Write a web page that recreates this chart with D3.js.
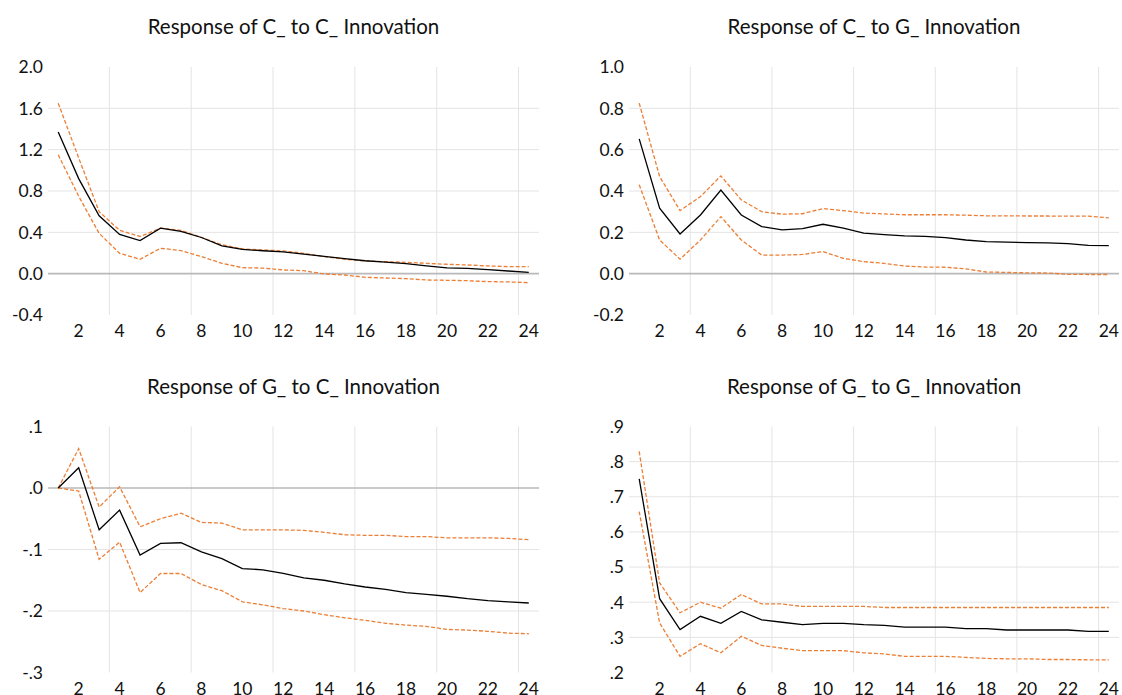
<!DOCTYPE html>
<html>
<head>
<meta charset="utf-8">
<script src="https://cdn.jsdelivr.net/npm/d3@7"></script>
<style>
  body { margin: 0; background: #fff; }
  text { font-family: Lato, "Open Sans", sans-serif; fill: #111; }
</style>
</head>
<body>
<div id="chart"></div>
<script>
// periods 1..24
let periods = d3.range(1, 25);
let xLabels = [2,4,6,8,10,12,14,16,18,20,22,24];

// Response of C_ to C_ Innovation
let ccMid = [1.37,0.92,0.56,0.38,0.32,0.44,0.41,0.35,0.27,0.235,0.222,0.21,0.19,0.168,0.145,0.125,0.112,0.097,0.075,0.056,0.052,0.04,0.026,0.013];
let ccUp  = [1.65,1.12,0.60,0.42,0.36,0.44,0.42,0.35,0.28,0.24,0.23,0.22,0.197,0.165,0.139,0.123,0.116,0.11,0.10,0.091,0.084,0.075,0.068,0.068];
let ccLo  = [1.15,0.75,0.39,0.197,0.139,0.246,0.223,0.165,0.10,0.058,0.054,0.036,0.029,-0.003,-0.013,-0.035,-0.042,-0.048,-0.061,-0.064,-0.068,-0.077,-0.08,-0.087];
let ccTicks = [-0.4,0,0.4,0.8,1.2,1.6,2.0];
let ccTickLabels = ["-0.4","0.0","0.4","0.8","1.2","1.6","2.0"];

// Response of C_ to G_ Innovation
let cgMid = [0.652,0.317,0.192,0.284,0.405,0.284,0.228,0.212,0.218,0.239,0.22,0.196,0.189,0.183,0.18,0.174,0.163,0.155,0.153,0.15,0.149,0.145,0.137,0.136];
let cgUp  = [0.825,0.47,0.305,0.373,0.473,0.357,0.30,0.288,0.29,0.315,0.305,0.293,0.289,0.285,0.285,0.285,0.283,0.28,0.28,0.279,0.279,0.278,0.278,0.27];
let cgLo  = [0.43,0.163,0.07,0.163,0.276,0.163,0.09,0.09,0.093,0.107,0.074,0.058,0.05,0.037,0.032,0.031,0.023,0.008,0.006,0.004,0.003,-0.003,-0.004,-0.004];
let cgTicks = [-0.2,0,0.2,0.4,0.6,0.8,1.0];
let cgTickLabels = ["-0.2","0.0","0.2","0.4","0.6","0.8","1.0"];

// Response of G_ to C_ Innovation
let gcMid = [0,0.033,-0.068,-0.036,-0.109,-0.09,-0.089,-0.104,-0.115,-0.131,-0.133,-0.139,-0.146,-0.15,-0.156,-0.161,-0.165,-0.17,-0.173,-0.176,-0.18,-0.183,-0.185,-0.187];
let gcUp  = [0,0.064,-0.031,0.002,-0.063,-0.05,-0.041,-0.056,-0.057,-0.068,-0.068,-0.068,-0.069,-0.072,-0.076,-0.077,-0.077,-0.079,-0.079,-0.081,-0.081,-0.081,-0.082,-0.084];
let gcLo  = [0,-0.005,-0.116,-0.088,-0.17,-0.139,-0.139,-0.157,-0.167,-0.185,-0.19,-0.196,-0.2,-0.206,-0.211,-0.215,-0.22,-0.223,-0.225,-0.23,-0.231,-0.233,-0.236,-0.237];
let gcTicks = [-0.3,-0.2,-0.1,0,0.1];
let gcTickLabels = ["-.3","-.2","-.1",".0",".1"];

// Response of G_ to G_ Innovation
let ggMid = [0.751,0.41,0.322,0.36,0.34,0.374,0.35,0.343,0.336,0.34,0.34,0.336,0.334,0.329,0.329,0.329,0.325,0.325,0.321,0.321,0.321,0.321,0.317,0.317];
let ggUp  = [0.829,0.455,0.37,0.40,0.383,0.422,0.395,0.395,0.388,0.388,0.388,0.388,0.385,0.385,0.385,0.385,0.385,0.385,0.385,0.385,0.385,0.385,0.385,0.385];
let ggLo  = [0.658,0.341,0.246,0.282,0.256,0.303,0.277,0.269,0.262,0.262,0.262,0.256,0.253,0.246,0.246,0.246,0.243,0.24,0.239,0.239,0.237,0.237,0.236,0.236];
let ggTicks = [0.2,0.3,0.4,0.5,0.6,0.7,0.8,0.9];
let ggTickLabels = [".2",".3",".4",".5",".6",".7",".8",".9"];

let svgWidth = 1122;
let svgHeight = 695;

let svg = d3.select("#chart")
  .append("svg")
  .attr("width", svgWidth)
  .attr("height", svgHeight);

// one entry per panel: title, series, ticks and where it sits
let panels = [
  {title: "Response of C_ to C_ Innovation", mid: ccMid, up: ccUp, lo: ccLo, ticks: ccTicks, labels: ccTickLabels, x0: 48, x1: 539, y0: 67, y1: 315},
  {title: "Response of C_ to G_ Innovation", mid: cgMid, up: cgUp, lo: cgLo, ticks: cgTicks, labels: cgTickLabels, x0: 629, x1: 1119, y0: 67, y1: 315},
  {title: "Response of G_ to C_ Innovation", mid: gcMid, up: gcUp, lo: gcLo, ticks: gcTicks, labels: gcTickLabels, x0: 48, x1: 539, y0: 426.5, y1: 672.5},
  {title: "Response of G_ to G_ Innovation", mid: ggMid, up: ggUp, lo: ggLo, ticks: ggTicks, labels: ggTickLabels, x0: 629, x1: 1119, y0: 426.5, y1: 672.5}
];

panels.forEach(drawPanel);

function drawPanel(p) {
  let g = svg.append("g");

  let xScale = d3.scalePoint()
    .domain(periods)
    .range([p.x0, p.x1])
    .padding(0.5);

  let yScale = d3.scaleLinear()
    .domain([d3.min(p.ticks), d3.max(p.ticks)])
    .range([p.y1, p.y0]);

  let step = xScale.step();

  // vertical grid between categories every 4 periods
  let vGrid = [3,7,11,15,19,23];
  g.selectAll(".vgrid")
    .data(vGrid)
    .enter()
    .append("line")
    .attr("x1", d => xScale(d) + step / 2)
    .attr("x2", d => xScale(d) + step / 2)
    .attr("y1", p.y0)
    .attr("y2", p.y1)
    .attr("stroke", "#e4e4e4")
    .attr("stroke-width", 1);

  // horizontal grid at inner ticks, zero darker
  let inner = p.ticks.slice(1, -1);
  g.selectAll(".hgrid")
    .data(inner)
    .enter()
    .append("line")
    .attr("x1", p.x0)
    .attr("x2", p.x1)
    .attr("y1", d => yScale(d))
    .attr("y2", d => yScale(d))
    .attr("stroke", d => d === 0 ? "#b9b9b9" : "#e4e4e4")
    .attr("stroke-width", d => d === 0 ? 1.6 : 1);

  // y tick labels
  g.selectAll(".ylab")
    .data(p.ticks)
    .enter()
    .append("text")
    .attr("x", p.x0 - 5)
    .attr("y", d => yScale(d))
    .attr("dy", "0.36em")
    .attr("text-anchor", "end")
    .attr("font-size", 17.5)
    .text((d, i) => p.labels[i]);

  // x tick labels
  g.selectAll(".xlab")
    .data(xLabels)
    .enter()
    .append("text")
    .attr("x", d => xScale(d))
    .attr("y", p.y1 + 16)
    .attr("dy", "0.36em")
    .attr("text-anchor", "middle")
    .attr("font-size", 17.5)
    .text(d => d);

  // title
  g.append("text")
    .attr("x", (p.x0 + p.x1) / 2)
    .attr("y", p.y0 - 40)
    .attr("dy", "0.36em")
    .attr("text-anchor", "middle")
    .attr("font-size", 20.5)
    .text(p.title);

  let line = d3.line()
    .x((d, i) => xScale(periods[i]))
    .y(d => yScale(d));

  [p.up, p.lo].forEach(band => {
    g.append("path")
      .attr("d", line(band))
      .attr("fill", "none")
      .attr("stroke", "#ec7f36")
      .attr("stroke-width", 1.3)
      .attr("stroke-dasharray", "4,2");
  });

  g.append("path")
    .attr("d", line(p.mid))
    .attr("fill", "none")
    .attr("stroke", "#000")
    .attr("stroke-width", 1.3);
}
</script>
</body>
</html>
